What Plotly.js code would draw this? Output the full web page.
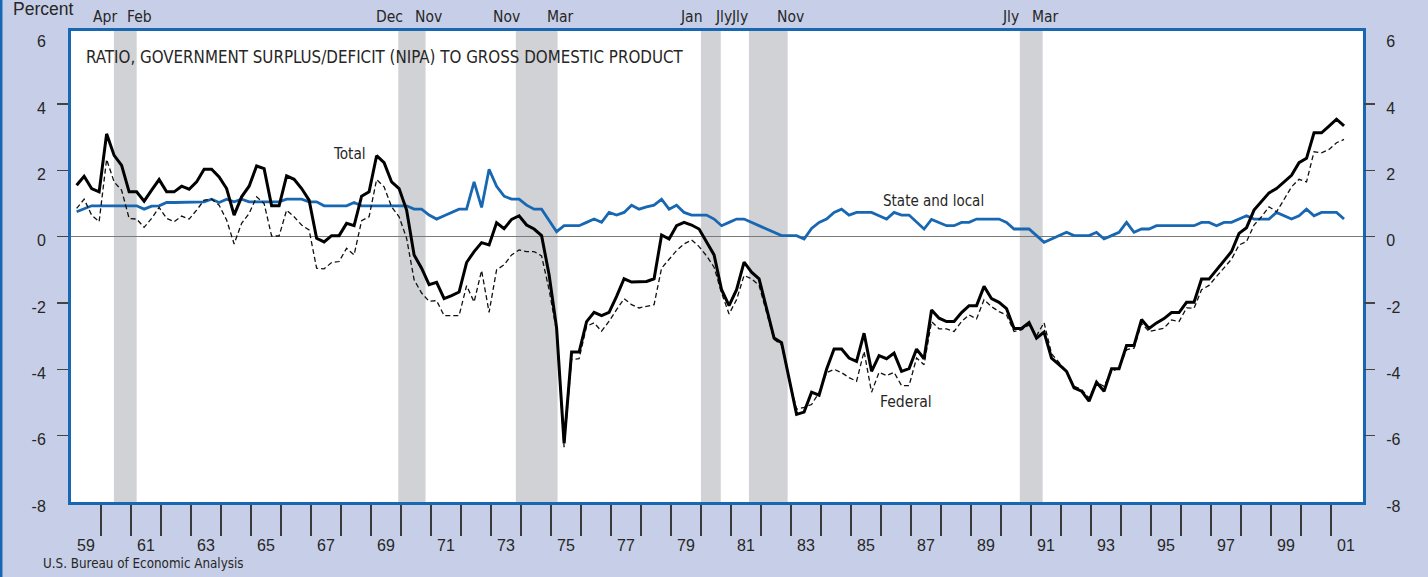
<!DOCTYPE html>
<html>
<head>
<meta charset="utf-8">
<script src="https://cdn.plot.ly/plotly-3.0.1.min.js"></script>
<style>
html,body{margin:0;padding:0;background:#c6cfe7;}
#chart{width:1428px;height:577px;}
</style>
</head>
<body>
<div id="chart"></div>
<script>
// ---- data (quarterly, 1959:I - 2001:II), percent of GDP ----
const startYear = 1959;
const total = [1.55,1.82,1.45,1.35,3.1,2.45,2.15,1.35,1.35,1.07, 1.4,1.72,1.35,1.35,1.52,1.43,1.65,2.03,2.03,1.8, 1.45,0.65,1.2,1.52,2.13,2.05,0.93,0.93,1.83,1.73, 1.45,1.1,-0.05,-0.16,0.03,0.03,0.4,0.33,1.22,1.35, 2.44,2.23,1.65,1.45,0.8,-0.55,-0.95,-1.45,-1.38,-1.87, -1.78,-1.67,-0.78,-0.45,-0.18,-0.25,0.42,0.24,0.52,0.63, 0.35,0.23,0.03,-1.15,-2.75,-6.23,-3.48,-3.48,-2.56,-2.28, -2.38,-2.28,-1.8,-1.27,-1.37,-1.37,-1.35,-1.27,0.05,-0.07, 0.33,0.43,0.35,0.23,-0.15,-0.55,-1.6,-2.08,-1.6,-0.77, -1.07,-1.27,-2.16,-3.06,-3.2,-4.3,-5.36,-5.29,-4.69,-4.78, -4.0,-3.39,-3.39,-3.66,-3.76,-2.91,-4.06,-3.59,-3.68,-3.51, -4.06,-3.98,-3.39,-3.68,-2.21,-2.46,-2.56,-2.56,-2.29,-2.08, -2.08,-1.5,-1.87,-1.98,-2.17,-2.77,-2.77,-2.59,-3.06,-2.88, -3.66,-3.86,-4.06,-4.56,-4.66,-4.96,-4.39,-4.66,-3.98,-3.98, -3.28,-3.28,-2.5,-2.77,-2.6,-2.47,-2.29,-2.29,-1.98,-1.98, -1.28,-1.28,-1.01,-0.75,-0.45,0.1,0.27,0.8,1.05,1.32, 1.45,1.65,1.85,2.23,2.36,3.13,3.13,3.33,3.54,3.34];
const federal = [0.85,1.13,0.65,0.45,2.33,1.65,1.4,0.55,0.53,0.28, 0.55,0.88,0.55,0.45,0.62,0.53,0.8,1.1,1.13,0.95, 0.5,-0.22,0.4,0.7,1.2,1.0,0.02,0.02,0.8,0.6, 0.35,0.2,-0.95,-0.97,-0.78,-0.75,-0.35,-0.55,0.48,0.6, 1.72,1.5,0.9,0.6,-0.05,-1.3,-1.7,-1.95,-1.93,-2.38, -2.38,-2.38,-1.48,-1.97,-1.02,-2.28,-1.0,-0.85,-0.55,-0.4, -0.45,-0.45,-0.58,-1.6,-2.85,-6.35,-3.7,-3.68,-2.7,-2.6, -2.85,-2.55,-2.2,-1.87,-2.05,-2.15,-2.1,-2.05,-0.95,-0.7, -0.42,-0.22,-0.1,-0.3,-0.58,-0.92,-1.7,-2.33,-1.9,-1.17, -1.27,-1.47,-2.3,-3.1,-3.26,-4.3,-5.2,-5.15,-5.06,-4.7, -4.1,-4.0,-4.1,-4.25,-4.36,-3.46,-4.69,-4.09,-4.19,-4.09, -4.49,-4.49,-3.66,-3.86,-2.56,-2.78,-2.78,-2.86,-2.56,-2.36, -2.48,-1.9,-2.11,-2.26,-2.36,-2.86,-2.81,-2.66,-2.99,-2.59, -3.53,-3.81,-4.06,-4.51,-4.61,-4.86,-4.39,-4.51,-4.06,-3.96, -3.41,-3.36,-2.61,-2.86,-2.81,-2.76,-2.51,-2.56,-2.15,-2.16, -1.6,-1.47,-1.2,-0.95,-0.68,-0.25,-0.15,0.35,0.6,0.9, 0.75,1.12,1.5,1.73,1.65,2.56,2.53,2.63,2.83,2.93];
const stateLocal = [0.75,0.85,0.93,0.93,0.93,0.93,0.93,0.93,0.93,0.83, 0.92,0.93,1.03,1.03,1.03,1.03,1.03,1.05,1.13,1.03, 1.13,1.05,1.13,1.05,1.05,1.05,1.05,1.05,1.13,1.13, 1.13,1.05,1.05,0.93,0.93,0.93,0.93,1.03,0.93,0.93, 0.93,0.93,0.93,0.93,0.93,0.83,0.83,0.65,0.53,0.63, 0.73,0.83,0.83,1.65,0.88,2.03,1.52,1.22,1.13,1.13, 0.95,0.83,0.83,0.5,0.15,0.33,0.33,0.33,0.43,0.53, 0.43,0.73,0.65,0.73,0.95,0.83,0.9,0.95,1.13,0.83, 0.95,0.73,0.65,0.65,0.65,0.53,0.33,0.43,0.53,0.53, 0.43,0.33,0.23,0.13,0.03,0.03,0.03,-0.07,0.25,0.43, 0.53,0.73,0.83,0.65,0.73,0.73,0.73,0.63,0.53,0.73, 0.65,0.65,0.45,0.23,0.52,0.43,0.33,0.33,0.43,0.43, 0.53,0.53,0.53,0.53,0.43,0.23,0.23,0.23,0.03,-0.17, -0.07,0.03,0.13,0.03,0.03,0.03,0.13,-0.07,0.03,0.13, 0.43,0.13,0.23,0.23,0.33,0.33,0.33,0.33,0.33,0.33, 0.43,0.43,0.33,0.43,0.43,0.53,0.63,0.53,0.53,0.53, 0.73,0.63,0.53,0.63,0.83,0.63,0.73,0.73,0.73,0.53];

// recessions (peak -> trough), decimal years as shaded on the chart
const recessionStart = [1960.43, 1969.91, 1973.83, 1980.0, 1981.6, 1990.63];
const recessionEnd   = [1961.19, 1970.82, 1975.22, 1980.66, 1982.89, 1991.39];
const recessionStartLabel = ['Apr','Dec','Nov','Jan','Jly','Jly'];
const recessionEndLabel   = ['Feb','Nov','Mar','Jly','Nov','Mar'];

const yTickValues = [-8,-6,-4,-2,0,2,4,6];
const yTickMarks = [-6,-4,-2,0,2,4];
const seriesLabels = ['Total','State and local','Federal'];

// ---- derived ----
const xq = total.map((_, i) => startYear + Math.floor(i/4) + ((i % 4) + 0.75) / 4);
const yearBounds = [];
for (let y = startYear + 1; y <= 2001; y++) yearBounds.push(y);
const oddYears = [];
for (let y = startYear; y <= 2001; y += 2) oddYears.push(y);
const yearLabelPos = oddYears.map(y => y + 0.5);
const yearLabelText = oddYears.map(y => String(y % 100).padStart(2,'0'));

const BLUE = '#1767b2';
const SHADE = '#d1d2d5';
const TXT = '#262626';
const NARROW = "'DejaVu Sans Condensed','Liberation Sans Narrow',sans-serif";
const REG = "'Liberation Sans',Arial,sans-serif";

const traces = [
  {x: xq, y: stateLocal, type:'scatter', mode:'lines', name:'State and local',
   line:{color:BLUE, width:2.8}, hoverinfo:'skip', showlegend:false},
  {x: xq, y: federal, type:'scatter', mode:'lines', name:'Federal',
   line:{color:'#111', width:1.3, dash:'5px,3px'}, hoverinfo:'skip', showlegend:false},
  {x: xq, y: total, type:'scatter', mode:'lines', name:'Total', yaxis:'y2',
   line:{color:'#000', width:3}, hoverinfo:'skip', showlegend:false}
];

const shapes = recessionStart.map((s, k) => ({
  type:'rect', xref:'x', yref:'paper', x0:s, x1:recessionEnd[k], y0:0, y1:1,
  fillcolor:SHADE, line:{width:0}, layer:'below'
}));
// left edge blue rule of the page
shapes.push({type:'line', xref:'paper', yref:'paper', x0:-0.0542, x1:-0.0542, y0:-0.17, y1:1.07,
  line:{color:BLUE, width:3}});

const annotations = [];
recessionStart.forEach((s, k) => {
  annotations.push({x:s, y:1.0297, xref:'x', yref:'paper', text:recessionStartLabel[k], showarrow:false,
    xanchor:'center', yanchor:'middle', xshift:-9, font:{family:NARROW, size:15.5, color:TXT}});
  annotations.push({x:recessionEnd[k], y:1.0297, xref:'x', yref:'paper', text:recessionEndLabel[k], showarrow:false,
    xanchor:'center', yanchor:'middle', xshift:3, font:{family:NARROW, size:15.5, color:TXT}});
});
annotations.push({x:-0.0464, y:1.0475, xref:'paper', yref:'paper', text:'Percent', showarrow:false,
  xanchor:'left', yanchor:'middle', font:{family:REG, size:17.5, color:TXT}});
annotations.push({x:-0.0235, y:-0.1316, xref:'paper', yref:'paper', text:'U.S. Bureau of Economic Analysis', showarrow:false,
  xanchor:'left', yanchor:'middle', font:{family:NARROW, size:13.3, color:TXT}});
annotations.push({x:1968.28, y:2.5, xref:'x', yref:'y', text:seriesLabels[0], showarrow:false,
  font:{family:NARROW, size:15.2, color:TXT}});
annotations.push({x:1987.76, y:1.07, xref:'x', yref:'y', text:seriesLabels[1], showarrow:false,
  font:{family:NARROW, size:15, color:TXT}});
annotations.push({x:1986.84, y:-5.0, xref:'x', yref:'y', text:seriesLabels[2], showarrow:false,
  font:{family:NARROW, size:15.6, color:TXT}});

const yCommon = {
  range:[-8, 6.2], tickmode:'array', tickvals:yTickValues, ticktext:yTickValues.map(String),
  ticks:'outside', ticklen:11, tickcolor:'rgba(0,0,0,0)', showgrid:false,
  tickfont:{family:REG, size:16, color:TXT}, ticklabelshift:4, ticklabelstandoff:8,
  minor:{tickmode:'array', tickvals:yTickMarks, ticks:'outside', ticklen:11, tickwidth:1.3, tickcolor:'#444', showgrid:false}
};

const layout = {
  width:1428, height:577,
  margin:{l:71, r:65, t:31, b:75, pad:0},
  paper_bgcolor:'#c6cfe7', plot_bgcolor:'#ffffff',
  title:{text:'RATIO, GOVERNMENT SURPLUS/DEFICIT (NIPA) TO GROSS DOMESTIC PRODUCT',
    xref:'container', yref:'container', x:86/1428, xanchor:'left', y:1-57.5/577, yanchor:'middle',
    font:{family:NARROW, size:16.8, color:TXT}},
  xaxis:{range:[1959, 2002.07], tickmode:'array', tickvals:yearLabelPos, ticktext:yearLabelText,
    ticks:'outside', ticklen:27, tickcolor:'rgba(0,0,0,0)', showgrid:false, zeroline:false,
    showline:true, mirror:true, linecolor:BLUE, linewidth:3,
    tickfont:{family:REG, size:16, color:TXT},
    minor:{tickmode:'array', tickvals:yearBounds, ticks:'outside', ticklen:31, tickwidth:1.3, tickcolor:'#3a3a3a', showgrid:false}},
  yaxis:Object.assign({}, yCommon, {side:'left', showline:true, mirror:true, linecolor:BLUE, linewidth:3,
    zeroline:true, zerolinecolor:'#7a7a7a', zerolinewidth:1.5}),
  yaxis2:Object.assign({}, yCommon, {side:'right', overlaying:'y', showline:false, zeroline:false}),
  shapes:shapes, annotations:annotations, showlegend:false
};

Plotly.newPlot('chart', traces, layout, {staticPlot:true, displayModeBar:false});
</script>
</body>
</html>
